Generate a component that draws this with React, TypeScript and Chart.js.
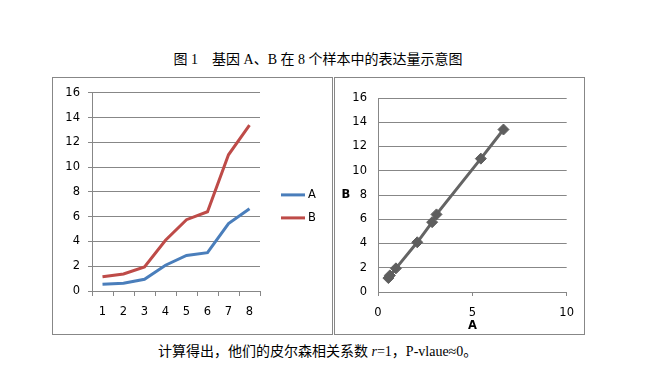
import React, { useEffect, useRef } from 'react';
import { Chart, registerables } from 'chart.js';

Chart.register(...registerables);

// ---- data ----
const categories = ['1', '2', '3', '4', '5', '6', '7', '8'];
const seriesA = [0.55, 0.63, 0.95, 2.08, 2.87, 3.1, 5.45, 6.65];
const seriesB = [1.15, 1.37, 1.95, 4.1, 5.76, 6.4, 11.0, 13.4];
const yMin = 0;
const yMax = 16;
const yStep = 2;
const scatterXMin = 0;
const scatterXMax = 10;
const scatterXStep = 5;
const seriesNames = ['A', 'B'];
const titleText = '图 1　基因 A、B 在 8 个样本中的表达量示意图';

const GRID = '#878787';
const TICK_FONT = { family: '"DejaVu Sans", Tahoma, sans-serif', size: 11.5 };
const COLORS = ['#4a7ebb', '#be4b48'];

function useChart(ref: React.RefObject<HTMLCanvasElement>, make: () => any) {
  useEffect(() => {
    if (!ref.current) return;
    const chart = new Chart(ref.current, make());
    return () => chart.destroy();
  }, []);
}

const legendPlugin = {
  id: 'customLegend',
  afterDraw(chart: any) {
    const { ctx, chartArea } = chart;
    ctx.save();
    chart.data.datasets.forEach((ds: any, i: number) => {
      const y = chartArea.top + 102 + i * 23;
      const x0 = chartArea.right + 21;
      ctx.strokeStyle = ds.borderColor;
      ctx.lineWidth = 3;
      ctx.beginPath();
      ctx.moveTo(x0, y);
      ctx.lineTo(x0 + 24, y);
      ctx.stroke();
      ctx.fillStyle = '#000';
      ctx.font = '11.5px "DejaVu Sans", Tahoma, sans-serif';
      ctx.textBaseline = 'middle';
      ctx.textAlign = 'left';
      ctx.fillText(ds.label, x0 + 27, y);
    });
    ctx.restore();
  },
};

const yLabelPlugin = {
  id: 'yLabelB',
  afterDraw(chart: any) {
    const { ctx, chartArea } = chart;
    ctx.save();
    ctx.fillStyle = '#000';
    ctx.font = 'bold 11.5px "DejaVu Sans", Tahoma, sans-serif';
    ctx.textBaseline = 'middle';
    ctx.textAlign = 'center';
    ctx.fillText(seriesNames[1], chartArea.left - 32, chartArea.top + 97);
    ctx.restore();
  },
};

function LineChart() {
  const ref = useRef<HTMLCanvasElement>(null);
  useChart(ref, () => ({
    type: 'line',
    data: {
      labels: categories,
      datasets: [
        { label: seriesNames[0], data: seriesA, borderColor: COLORS[0], backgroundColor: COLORS[0], borderWidth: 3, pointRadius: 0, tension: 0 },
        { label: seriesNames[1], data: seriesB, borderColor: COLORS[1], backgroundColor: COLORS[1], borderWidth: 3, pointRadius: 0, tension: 0 },
      ],
    },
    options: {
      responsive: false,
      animation: false,
      devicePixelRatio: 1,
      layout: { padding: { left: 0, right: 72, top: 14, bottom: 0 } },
      plugins: { legend: { display: false }, tooltip: { enabled: false } },
      scales: {
        x: {
          type: 'category',
          offset: true,
          grid: { drawOnChartArea: false, drawTicks: true, tickLength: 5, offset: true, color: GRID },
          border: { display: true, color: GRID },
          ticks: { font: TICK_FONT, color: '#000', padding: 9, maxRotation: 0 },
          afterFit: (s: any) => { s.height = 43; },
        },
        y: {
          min: yMin,
          max: yMax,
          ticks: { stepSize: yStep, font: TICK_FONT, color: '#000', padding: 8 },
          grid: { color: GRID, tickLength: 4 },
          border: { display: true, color: GRID },
          afterFit: (s: any) => { s.width = 39; },
        },
      },
    },
    plugins: [legendPlugin],
  }));
  return <canvas ref={ref} width={279} height={256} style={{ position: 'absolute', left: 53, top: 78, width: 279, height: 256 }} />;
}

function ScatterChart() {
  const ref = useRef<HTMLCanvasElement>(null);
  useChart(ref, () => ({
    type: 'scatter',
    data: {
      datasets: [
        {
          label: seriesNames[1],
          data: seriesA.map((a, i) => ({ x: a, y: seriesB[i] })),
          showLine: true,
          borderColor: '#646464',
          borderWidth: 3,
          pointStyle: 'rectRot',
          pointRadius: 5.5,
          pointBackgroundColor: '#5e5e5e',
          pointBorderColor: '#5e5e5e',
          pointBorderWidth: 1,
        },
      ],
    },
    options: {
      responsive: false,
      animation: false,
      devicePixelRatio: 1,
      layout: { padding: { left: 0, right: 15, top: 20, bottom: 0 } },
      plugins: { legend: { display: false }, tooltip: { enabled: false } },
      scales: {
        x: {
          type: 'linear',
          min: scatterXMin,
          max: scatterXMax,
          ticks: { stepSize: scatterXStep, font: TICK_FONT, color: '#000', padding: 10, maxRotation: 0 },
          grid: { drawOnChartArea: false, drawTicks: true, tickLength: 4, color: GRID },
          border: { display: true, color: GRID },
          title: { display: true, text: seriesNames[0], font: { ...TICK_FONT, weight: 'bold' }, color: '#000', padding: { top: 0, bottom: 1 } },
          afterFit: (s: any) => { s.height = 42; },
        },
        y: {
          min: yMin,
          max: yMax,
          ticks: { stepSize: yStep, font: TICK_FONT, color: '#000', padding: 11 },
          grid: { color: GRID, drawTicks: false },
          border: { display: true, color: GRID },
          afterFit: (s: any) => { s.width = 43; },
        },
      },
    },
    plugins: [yLabelPlugin],
  }));
  return <canvas ref={ref} width={249} height={256} style={{ position: 'absolute', left: 335, top: 78, width: 249, height: 256 }} />;
}

const serif = '"Liberation Serif", "Times New Roman", "Noto Sans CJK SC", serif';

export default function App() {
  return (
    <div style={{ position: 'absolute', left: 0, top: 0, width: 647, height: 372, background: '#fff', overflow: 'hidden' }}>
      <div style={{ position: 'absolute', left: 0, top: 50, width: 636, textAlign: 'center', fontFamily: serif, fontSize: 14, lineHeight: '20px', color: '#000', whiteSpace: 'pre' }}>
        {titleText}
      </div>
      <div style={{ position: 'absolute', left: 52, top: 77, width: 281, height: 258, boxSizing: 'border-box', border: `1px solid ${GRID}` }} />
      <div style={{ position: 'absolute', left: 334, top: 77, width: 251, height: 258, boxSizing: 'border-box', border: `1px solid ${GRID}` }} />
      <LineChart />
      <ScatterChart />
      <div style={{ position: 'absolute', left: 158, top: 342, fontFamily: serif, fontSize: 14, lineHeight: '20px', color: '#000', whiteSpace: 'pre' }}>
        计算得出，他们的皮尔森相关系数 <i>r</i>=1，P-vlaue≈0。
      </div>
    </div>
  );
}
